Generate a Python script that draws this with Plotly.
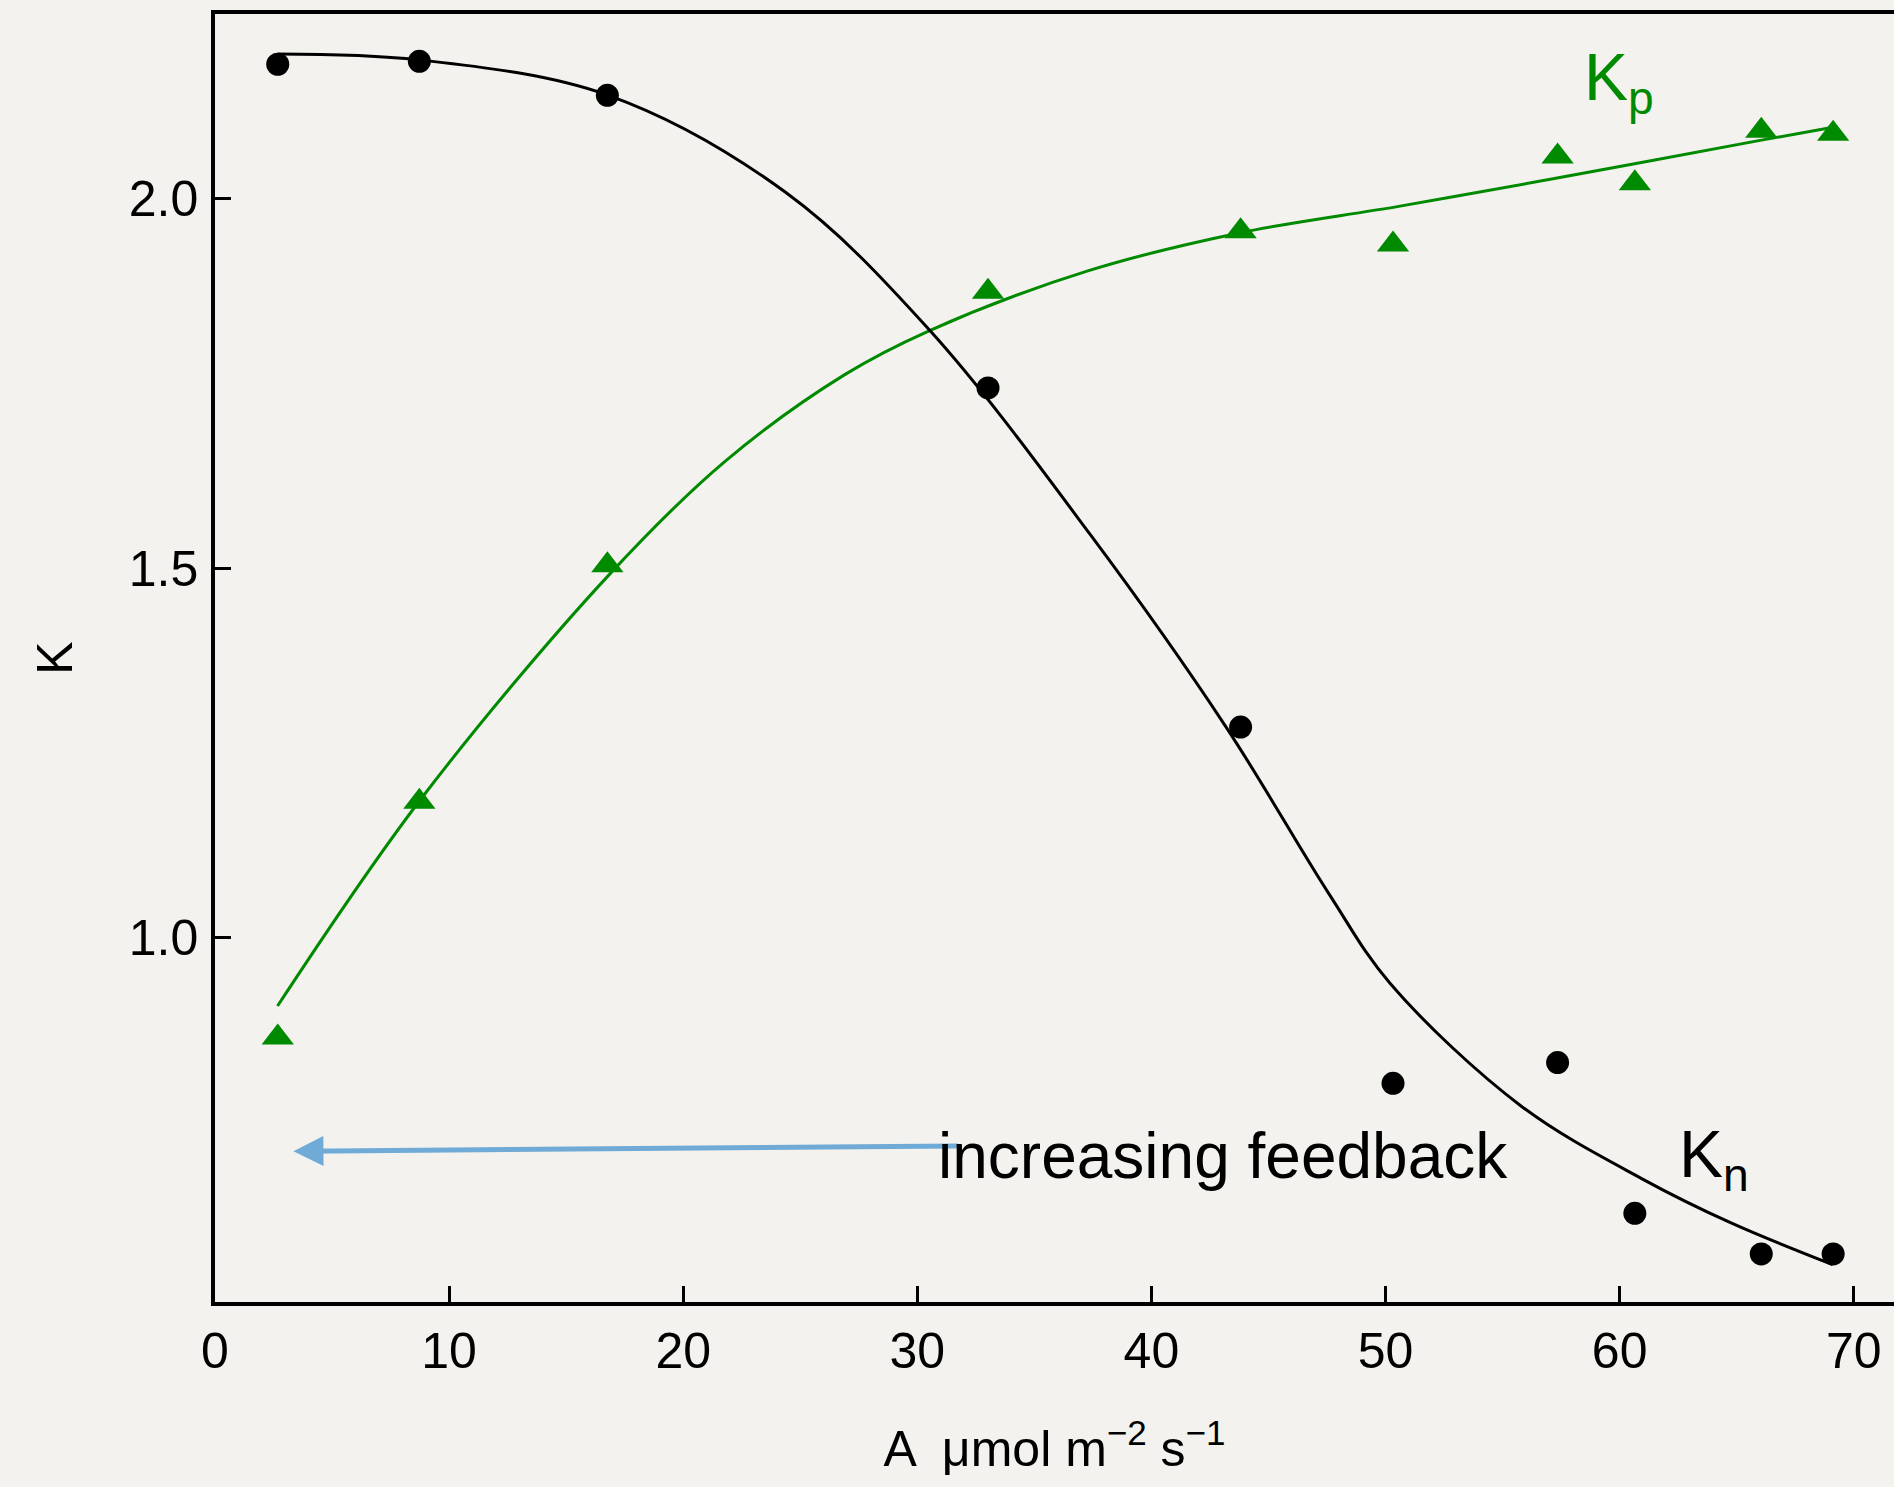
import plotly.graph_objects as go

# Measured points
A_pts = [2.68, 8.73, 16.76, 33.02, 43.81, 50.32, 57.35, 60.65, 66.05, 69.12]
Kn_pts = [2.182, 2.186, 2.140, 1.744, 1.285, 0.803, 0.831, 0.627, 0.572, 0.572]
Kp_pts = [0.865, 1.184, 1.504, 1.874, 1.956, 1.938, 2.057, 2.021, 2.092, 2.088]

# Fitted curves
Kn_fit_A = [2.68, 8.7, 16.8, 24.4, 30.5, 37.4, 43.19, 47.57, 50.2, 55.8, 61.0,
            64.76, 69.1]
Kn_fit_K = [2.196, 2.188, 2.140, 2.008, 1.823, 1.545, 1.285, 1.060, 0.938, 0.772,
            0.673, 0.614, 0.5575]
Kp_fit_A = [2.67, 8.78, 16.8, 21.8, 26.9, 30.48, 37.25, 43.8, 50.62, 57.33, 66.0, 69.0]
Kp_fit_K = [0.9075, 1.187, 1.490, 1.645, 1.762, 1.821, 1.902, 1.954, 1.990, 2.028,
            2.079, 2.096]

x_ticks = [0, 10, 20, 30, 40, 50, 60, 70]
y_ticks = [1.0, 1.5, 2.0]
y_tick_text = ["1.0", "1.5", "2.0"]

GREEN = "#008a00"
BLUE = "#6fabd6"
BG = "#f3f2ee"
FONT = "Liberation Sans, Arial, Helvetica, sans-serif"

fig = go.Figure()
fig.add_trace(go.Scatter(x=Kp_fit_A, y=Kp_fit_K, mode="lines",
                         line=dict(color=GREEN, width=3, shape="spline", smoothing=1.0),
                         hoverinfo="skip", showlegend=False))
fig.add_trace(go.Scatter(x=Kn_fit_A, y=Kn_fit_K, mode="lines",
                         line=dict(color="black", width=3, shape="spline", smoothing=1.0),
                         hoverinfo="skip", showlegend=False))
fig.add_trace(go.Scatter(x=A_pts, y=Kp_pts, mode="markers",
                         marker=dict(symbol="triangle-up", size=28, color=GREEN),
                         showlegend=False))
fig.add_trace(go.Scatter(x=A_pts, y=Kn_pts, mode="markers",
                         marker=dict(symbol="circle", size=23, color="black"),
                         showlegend=False))

# arrow
fig.add_annotation(x=3.35, y=0.711, ax=31.8, ay=0.718, xref="x", yref="y",
                   axref="x", ayref="y", text="", showarrow=True,
                   arrowhead=2, arrowsize=1.2, arrowwidth=5, arrowcolor=BLUE)
fig.add_annotation(x=30.8, y=0.705, xref="x", yref="y", text="increasing feedback",
                   showarrow=False, xanchor="left", yanchor="middle",
                   font=dict(family=FONT, size=64, color="black"))
fig.add_annotation(x=58.4, y=2.158, xref="x", yref="y", text="K<sub>p</sub>",
                   showarrow=False, xanchor="left", yanchor="middle",
                   font=dict(family=FONT, size=66, color=GREEN))
fig.add_annotation(x=62.45, y=0.701, xref="x", yref="y", text="K<sub>n</sub>",
                   showarrow=False, xanchor="left", yanchor="middle",
                   font=dict(family=FONT, size=66, color="black"))

fig.update_layout(
    width=1894, height=1487,
    margin=dict(l=215, r=0, t=14, b=185),
    paper_bgcolor=BG, plot_bgcolor=BG,
    font=dict(family=FONT, size=50, color="black"),
    xaxis=dict(range=[0, 71.72], tickvals=x_ticks, ticks="inside", ticklen=16,
               tickwidth=3, tickcolor="black", showline=True, linewidth=3.5,
               linecolor="black", mirror=True, showgrid=False, zeroline=False,
               tickfont=dict(size=50), ticklabelstandoff=2,
               title=dict(text="A  \u03bcmol m<sup>\u22122</sup> s<sup>\u22121</sup>",
                          font=dict(size=50), standoff=54)),
    yaxis=dict(range=[0.507, 2.25], tickvals=y_ticks, ticktext=y_tick_text,
               ticks="inside", ticklen=16, tickwidth=3, tickcolor="black",
               showline=True, linewidth=3.5, linecolor="black", mirror=False,
               showgrid=False, zeroline=False, tickfont=dict(size=50),
               ticklabelstandoff=3,
               title=dict(text="K", font=dict(size=50), standoff=41)),
)

fig.write_html("out.html")
